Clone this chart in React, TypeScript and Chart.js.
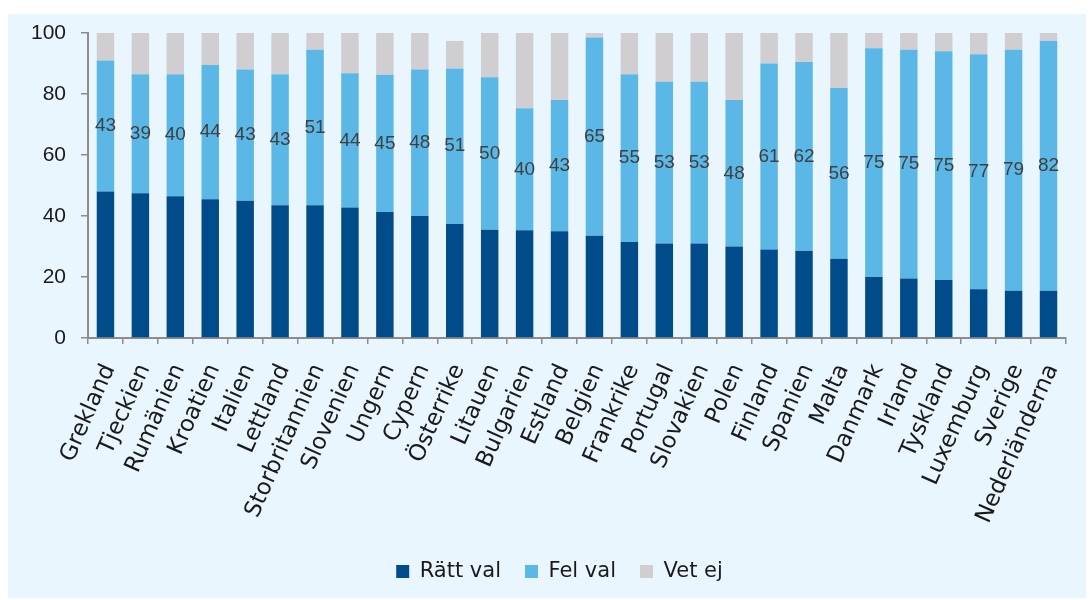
import React, { useEffect, useRef } from "react";
import { Chart, registerables } from "chart.js";

Chart.register(...registerables);

const categories = [
  "Grekland", "Tjeckien", "Rumänien", "Kroatien", "Italien", "Lettland",
  "Storbritannien", "Slovenien", "Ungern", "Cypern", "Österrike", "Litauen",
  "Bulgarien", "Estland", "Belgien", "Frankrike", "Portugal", "Slovakien",
  "Polen", "Finland", "Spanien", "Malta", "Danmark", "Irland", "Tyskland",
  "Luxemburg", "Sverige", "Nederländerna",
];

const rattVal = [
  48, 47.5, 46.5, 45.5, 45, 43.5, 43.5, 42.8, 41.3, 40, 37.4, 35.5, 35.3, 35,
  33.5, 31.5, 31, 31, 30, 29, 28.5, 26, 20, 19.5, 19, 16, 15.5, 15.5,
];

const felVal = [
  43, 39, 40, 44, 43, 43, 51, 44, 45, 48, 51, 50, 40, 43, 65, 55, 53, 53, 48,
  61, 62, 56, 75, 75, 75, 77, 79, 82,
];

const vetEj = [
  9, 13.5, 13.5, 10.5, 12, 13.5, 5.5, 13.2, 13.7, 12, 9, 14.5, 24.7, 22, 1.5,
  13.5, 16, 16, 22, 10, 9.5, 18, 5, 5.5, 6, 7, 5.5, 2.5,
];

const seriesNames = ["Rätt val", "Fel val", "Vet ej"];
const yTicks = [0, 20, 40, 60, 80, 100];

const COLORS = ["#004C8A", "#5BB8E6", "#D0CED0"];
const AXIS = "#8C8C8C";
const BG = "#EAF6FD";

const backgroundPlugin = {
  id: "panelBg",
  beforeDraw(chart: any) {
    const { ctx, width, height } = chart;
    ctx.save();
    ctx.fillStyle = "#FFFFFF";
    ctx.fillRect(0, 0, width, height);
    ctx.fillStyle = BG;
    ctx.fillRect(8, 14, 1078, 584);
    ctx.restore();
  },
};

const legendShiftPlugin = {
  id: "legendShift",
  afterLayout(chart: any) {
    const lg = chart.legend;
    if (lg) {
      lg.left += 22;
      lg.right += 22;
    }
  },
};

const valueLabelPlugin = {
  id: "valueLabels",
  afterDatasetsDraw(chart: any) {
    const { ctx } = chart;
    const meta = chart.getDatasetMeta(1);
    const data = chart.data.datasets[1].data;
    ctx.save();
    ctx.font = '19px "Liberation Sans", Arial, sans-serif';
    ctx.fillStyle = "#404040";
    ctx.textAlign = "center";
    ctx.textBaseline = "middle";
    meta.data.forEach((el: any, i: number) => {
      const { x, y, base } = el.getProps(["x", "y", "base"], true);
      ctx.fillText(String(data[i]), x, (y + base) / 2);
    });
    ctx.restore();
  },
};

export default function App() {
  const canvasRef = useRef<HTMLCanvasElement | null>(null);

  useEffect(() => {
    if (!canvasRef.current) return;
    const chart = new Chart(canvasRef.current, {
      type: "bar",
      data: {
        labels: categories,
        datasets: [
          { label: seriesNames[0], data: rattVal, backgroundColor: COLORS[0] },
          { label: seriesNames[1], data: felVal, backgroundColor: COLORS[1] },
          { label: seriesNames[2], data: vetEj, backgroundColor: COLORS[2] },
        ],
      },
      options: {
        responsive: false,
        animation: false,
        devicePixelRatio: 1,
        layout: { padding: { left: 0, right: 15, top: 33, bottom: 8 } },
        datasets: {
          bar: { categoryPercentage: 1, barPercentage: 0.5 },
        },
        plugins: {
          tooltip: { enabled: false },
          legend: {
            position: "bottom",
            labels: {
              boxWidth: 13,
              boxHeight: 13,
              padding: 24,
              color: "#1A1A1A",
              font: { family: '"DejaVu Sans", sans-serif', size: 21 },
            },
          },
        },
        scales: {
          x: {
            stacked: true,
            afterFit: (scale: any) => {
              scale.height = 199;
            },
            grid: {
              display: true,
              drawOnChartArea: false,
              drawTicks: true,
              tickLength: 6,
              color: AXIS,
              lineWidth: 1.5,
            },
            border: { display: true, color: AXIS, width: 2 },
            ticks: {
              autoSkip: false,
              minRotation: 66,
              maxRotation: 66,
              padding: 16,
              labelOffset: 4,
              color: "#1A1A1A",
              font: { family: '"DejaVu Sans", sans-serif', size: 23 },
            },
          },
          y: {
            stacked: true,
            min: 0,
            max: 100,
            afterFit: (scale: any) => {
              scale.width = 88;
            },
            afterBuildTicks: (scale: any) => {
              scale.ticks = yTicks.map((v) => ({ value: v }));
            },
            grid: {
              display: true,
              drawOnChartArea: false,
              drawTicks: true,
              tickLength: 7,
              color: AXIS,
              lineWidth: 1.5,
            },
            border: { display: true, color: AXIS, width: 2 },
            ticks: {
              padding: 15,
              color: "#1A1A1A",
              font: { family: '"Liberation Sans", Arial, sans-serif', size: 21 },
            },
          },
        },
      },
      plugins: [backgroundPlugin, legendShiftPlugin, valueLabelPlugin],
    });
    return () => chart.destroy();
  }, []);

  return (
    <div style={{ position: "fixed", left: 0, top: 0, width: 1090, height: 600, background: "#fff" }}>
      <canvas ref={canvasRef} width={1090} height={600} style={{ display: "block" }} />
    </div>
  );
}
